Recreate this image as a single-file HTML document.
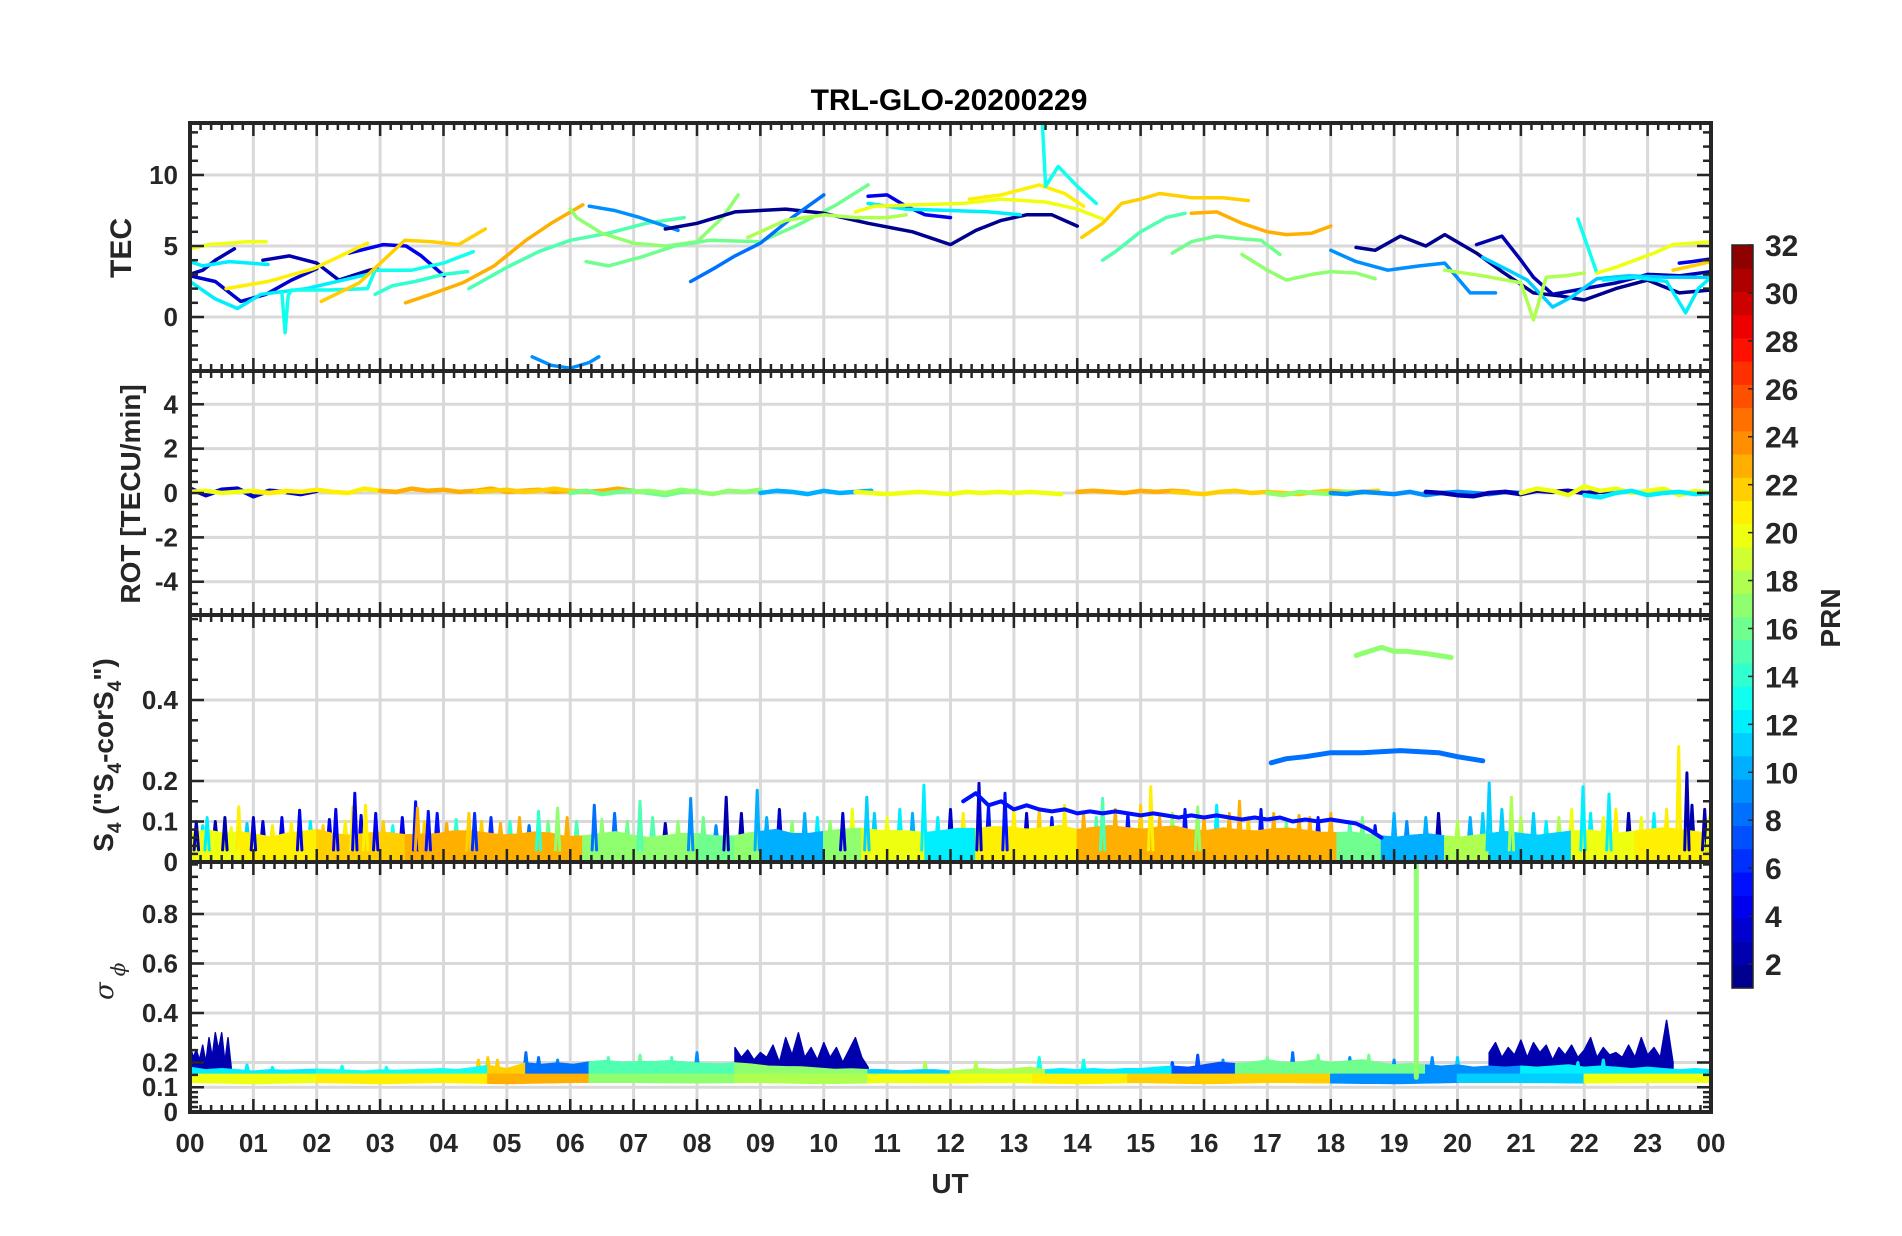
<!DOCTYPE html>
<html><head><meta charset="utf-8"><title>TRL-GLO-20200229</title>
<style>
html,body{margin:0;padding:0;background:#fff;}
svg{display:block;font-family:"Liberation Sans",Arial,sans-serif;}
.tk{font-weight:bold;font-size:26px;fill:#262626;}
</style></head>
<body>
<svg id="fig" width="1902" height="1236" viewBox="0 0 1902 1236" xmlns="http://www.w3.org/2000/svg">
<rect width="1902" height="1236" fill="#fff"/>
<text x="949" y="110" text-anchor="middle" font-weight="bold" font-size="30" fill="#000">TRL-GLO-20200229</text>
<text transform="translate(131,248) rotate(-90)" text-anchor="middle" font-weight="bold" font-size="30" fill="#262626">TEC</text>
<text transform="translate(140,494) rotate(-90)" text-anchor="middle" font-weight="bold" font-size="28" fill="#262626">ROT [TECU/min]</text>
<text transform="translate(113,755) rotate(-90)" text-anchor="middle" font-weight="bold" font-size="28" fill="#262626">S<tspan font-size="19" dy="8">4</tspan><tspan dy="-8"> ("S</tspan><tspan font-size="19" dy="8">4</tspan><tspan dy="-8">-corS</tspan><tspan font-size="19" dy="8">4</tspan><tspan dy="-8">")</tspan></text>
<text transform="translate(113,1000) rotate(-90)" text-anchor="start" font-size="26" fill="#262626" font-family="'DejaVu Serif',serif" font-style="italic">σ<tspan font-size="20" dx="6" dy="12">ϕ</tspan></text>
<text x="950" y="1193" text-anchor="middle" font-weight="bold" font-size="28" fill="#262626">UT</text>
<text transform="translate(1840,618) rotate(-90)" text-anchor="middle" font-weight="bold" font-size="28" fill="#262626">PRN</text>
<g id="layer"></g>
</svg>
<script>
// ---------- data ----------
const hourTickLabels = ["00","01","02","03","04","05","06","07","08","09","10","11","12","13","14","15","16","17","18","19","20","21","22","23","00"];
const tecTicks = [0,5,10];
const rotTicks = [-4,-2,0,2,4];
const s4Ticks = [0,0.1,0.2,0.4];
const sigTicks = [0,0.1,0.2,0.4,0.6,0.8];
const prnTicks = [2,4,6,8,10,12,14,16,18,20,22,24,26,28,30,32];

// TEC arcs
const tecArcPrn = [20,2,3,2,4,12,12,21,13,22,14,23,15,17,16,9,9,1,8,4,12,20,18,21,13,22,15,23,16,17,9,1,2,11,13,18,20,4,22,12];
const tecArcHours = [
 [0,0.3,0.6,0.9,1.2],
 [0,0.2,0.4,0.7],
 [0,0.4,0.8,1.2,1.6,2.0],
 [1.15,1.57,2.0,2.35,2.83,2.95],
 [2.51,3.05,3.41,3.65,4.01],
 [0,0.2,0.62,1.23],
 [0,0.39,0.75,1.12,1.84,2.8],
 [0.57,1.23,1.95,2.8],
 [1.45,1.5,1.55,1.6,2.2,2.8,2.92,3.5,4.0,4.47],
 [2.07,2.67,3.39,3.82,4.24,4.66],
 [2.92,3.19,3.55,4.0,4.38],
 [3.4,3.8,4.3,4.8,5.3,5.7,6.2],
 [4.4,5.0,5.5,6.0,6.6,7.2,7.8],
 [6.0,6.1,6.5,7.0,7.5,8.0,8.4,8.65],
 [6.25,6.6,7.1,7.65,8.2,9.0,9.6,10.2,10.7],
 [5.4,5.7,6.0,6.3,6.45],
 [6.3,6.7,7.1,7.5,7.7],
 [7.5,8.0,8.6,9.4,10.0,10.7,11.4,12.0,12.4,12.8,13.2,13.6,14.0],
 [7.9,8.3,8.6,9.0,9.5,10.0],
 [10.7,11.0,11.3,11.6,12.0],
 [10.7,11.3,12.0,12.6,13.1],
 [10.5,10.8,11.5,12.2,12.8,13.5,14.0,14.4],
 [8.8,9.4,10.0,10.5,11.0,11.3],
 [12.3,12.8,13.4,13.8,14.1],
 [13.45,13.5,13.7,14.0,14.3],
 [14.07,14.4,14.7,15.0,15.3,15.8,16.3,16.7],
 [14.4,14.6,15.0,15.4,15.7],
 [15.8,16.2,16.6,17.0,17.3,17.7,18.0],
 [15.5,15.8,16.2,16.6,16.9,17.2],
 [16.6,17.0,17.3,17.7,18.0,18.4,18.7],
 [18.0,18.4,18.9,19.4,19.8,20.2,20.6],
 [18.4,18.7,19.1,19.5,19.8,20.3,20.7,21.2,21.6,22.0,22.5,23.0,23.5,24],
 [20.3,20.7,21.0,21.2,21.5,22.0,22.5,23.0,23.5,24],
 [20.4,20.8,21.1,21.5,21.8,22.2,22.7,23.3,24],
 [21.9,22.2],
 [19.8,20.4,21.0,21.2,21.4,21.7,22.0],
 [22.2,22.5,22.8,23.1,23.4,23.7,24],
 [23.5,23.7,24],
 [23.4,23.7,24],
 [22.3,22.8,23.3,23.6,23.8,24]
];
const tecArcValues = [
 [4.8,5.1,5.2,5.3,5.3],
 [3.0,3.3,4.0,4.8],
 [2.9,2.5,1.1,1.6,2.6,3.4],
 [4.0,4.3,3.8,2.6,3.3,3.4],
 [4.5,5.1,5.0,4.3,2.9],
 [3.9,3.6,3.9,3.7],
 [2.5,1.3,0.6,1.6,2.0,3.0],
 [2.0,2.5,3.4,5.2],
 [1.7,-1.1,1.5,1.9,1.9,2.0,3.3,3.3,3.8,4.6],
 [1.1,2.4,5.4,5.3,5.1,6.2],
 [1.6,2.2,2.5,3.0,3.2],
 [1.0,1.6,2.4,3.6,5.4,6.6,7.9],
 [2.0,3.5,4.6,5.4,5.9,6.6,7.0],
 [7.6,7.0,5.9,5.2,5.0,5.3,7.0,8.6],
 [3.9,3.6,4.2,5.0,5.4,5.3,6.5,7.9,9.3],
 [-2.8,-3.4,-3.6,-3.2,-2.8],
 [7.8,7.5,7.0,6.4,6.1],
 [6.2,6.6,7.4,7.6,7.3,6.6,6.0,5.1,6.1,6.8,7.2,7.2,6.4],
 [2.5,3.5,4.3,5.2,7.0,8.6],
 [8.5,8.6,7.8,7.2,7.0],
 [8.0,7.6,7.5,7.4,7.2],
 [7.4,7.8,7.9,8.0,8.3,8.1,7.6,6.9],
 [5.6,6.8,7.2,7.0,7.0,7.2],
 [8.3,8.6,9.3,8.7,7.8],
 [13.6,9.2,10.6,9.2,8.0],
 [5.6,6.6,8.0,8.3,8.7,8.4,8.4,8.2],
 [4.0,4.6,6.0,7.0,7.3],
 [7.3,7.4,6.6,6.0,5.8,5.9,6.4],
 [4.5,5.3,5.7,5.5,5.4,4.4],
 [4.4,3.3,2.6,3.0,3.2,3.1,2.7],
 [4.7,3.9,3.3,3.6,3.8,1.7,1.7],
 [4.9,4.7,5.7,5.0,5.8,4.5,3.2,1.7,1.5,1.2,2.0,2.6,1.7,1.9],
 [5.1,5.7,4.0,2.8,1.6,2.0,2.4,3.0,2.9,3.2],
 [4.2,3.3,2.6,0.7,1.4,2.7,2.9,2.8,2.8],
 [6.9,3.1],
 [3.3,2.9,2.4,-0.2,2.8,2.9,3.1],
 [3.1,3.5,4.0,4.5,5.1,5.2,5.3],
 [3.8,3.9,4.1],
 [3.3,3.6,3.9],
 [2.6,2.8,2.5,0.3,2.0,2.8]
];

// ROT segments (step 0.25 h)
const rotSegPrn = [3,20,21,23,22,16,17,10,20,23,22,17,9,2,20,12];
const rotSegStart = [0,0,1,3,4.5,6,7,9,10.5,14,15.5,17,18,19.5,21,22];
const rotSegValues = [
 [0.2,-0.1,0.15,0.2,-0.15,0.1,0.05,-0.05,0.1],
 [0.05,0.1,0,0.05,0.1,0,0.05],
 [0.05,0,0.1,0.05,0.15,0.05,0,0.2,0.1],
 [0.1,0.05,0.2,0.1,0.15,0.05,0.1,0.2,0.05,0.1,0.15,0.05,0.1,0.05,0.1,0.2,0.1],
 [0.05,0.1,0.15,0.05,0.1,0.2,0.1,0.05],
 [0,0.1,-0.05,0.05,0.1,0,-0.1,0.05,0.1],
 [0.05,0.1,0,0.15,0.05,-0.05,0.1,0.05,0.15],
 [0,0.1,0.05,-0.05,0.1,0,0.05,0.1],
 [0.05,0,-0.05,0,0.05,0,-0.05,0.05,0,0.05,0,0.05,0,-0.05],
 [0.05,0.1,0.05,0,0.1,0.05,0.1,0.05],
 [0.05,0,-0.05,0.05,0.1,0,0.05,0,-0.05,0.05,0.1,0.05,0.05,0.1],
 [0,-0.1,0.05,0,-0.05,0.05,0],
 [0,-0.05,0.05,0,-0.05,0.05,-0.1,0,0.05,0,-0.05,0.05,0],
 [0.05,0,-0.1,-0.15,0,0.05,-0.05,0.1,0.05,0.1,0,0.05,0.1],
 [0,0.2,0.1,-0.1,0.3,0.1,0.2,0,0.1,0.2,-0.1,0.1,0,0.05],
 [-0.1,-0.2,0,0.1,-0.1,0,0.05,-0.05,0,0.05,0,-0.05,0]
];

// S4 band
const s4Top = [0.07,0.08,0.07,0.075,0.07,0.06,0.07,0.075,0.08,0.07,0.065,0.07,0.075,0.07,0.065,0.07,0.07,0.08,0.075,0.07,0.065,0.07,0.075,0.07,0.06,0.065,0.07,0.075,0.065,0.06,0.065,0.07,0.07,0.065,0.06,0.07,0.075,0.08,0.07,0.07,0.075,0.08,0.085,0.08,0.075,0.08,0.07,0.075,0.08,0.085,0.08,0.09,0.085,0.08,0.085,0.09,0.08,0.085,0.09,0.085,0.08,0.085,0.09,0.08,0.075,0.085,0.08,0.075,0.08,0.085,0.08,0.075,0.07,0.075,0.07,0.065,0.06,0.065,0.07,0.065,0.06,0.065,0.07,0.075,0.07,0.065,0.07,0.075,0.08,0.075,0.07,0.075,0.08,0.085,0.08,0.075,0.07];
const s4SegStart = [0,0.8,2.0,3.4,6.2,8.0,8.6,9.0,10.0,10.6,11.6,12.4,14.0,18.1,18.8,19.8,20.5,21.8,22.8];
const s4SegEnd   = [0.8,2.0,3.4,6.2,8.0,8.6,9.0,10.0,10.6,11.6,12.4,14.0,18.1,18.8,19.8,20.5,21.8,22.8,24];
const s4SegPrn   = [20,21,22,23,17,16,17,10,17,20,12,21,23,16,10,18,11,20,21];
const s4SpikeHours = [0.1,0.27,0.55,0.77,1.0,1.73,2.3,2.57,2.6,2.77,2.93,3.56,3.59,3.76,4.4,4.49,5.5,5.8,6.38,7.1,7.9,8.46,8.95,10.3,10.68,11.58,12.45,12.86,14.4,15.16,15.9,16.56,17.67,20.5,20.85,21.98,22.39,23.49,23.62,23.9,23.97];
const s4SpikeValues = [0.1,0.11,0.11,0.136,0.11,0.128,0.13,0.136,0.17,0.14,0.12,0.149,0.133,0.125,0.12,0.12,0.125,0.133,0.14,0.15,0.157,0.16,0.177,0.12,0.16,0.19,0.194,0.17,0.157,0.186,0.136,0.15,0.11,0.195,0.16,0.186,0.168,0.285,0.22,0.13,0.11];
const s4SpikePrn = [2,12,2,21,3,4,4,21,4,21,4,5,23,5,22,6,14,17,8,15,9,2,10,3,11,12,3,5,15,21,17,23,23,11,18,12,12,21,2,2,20];
// smaller noise spikes within the dense band
const s4NoiseHours = [0.2,0.4,0.65,0.9,1.15,1.3,1.45,1.6,1.9,2.1,2.2,2.45,2.7,3.05,3.2,3.35,3.7,3.9,4.05,4.2,4.6,4.75,4.9,5.05,5.2,5.35,5.65,5.95,6.1,6.5,6.7,6.9,7.3,7.5,7.7,8.1,8.3,8.7,9.1,9.3,9.5,9.7,9.9,10.1,10.45,10.8,11.0,11.2,11.4,11.8,12.0,12.2,12.6,13.0,13.2,13.4,13.6,13.8,14.1,14.3,14.6,14.8,15.0,15.3,15.5,15.7,16.0,16.2,16.4,16.7,16.9,17.1,17.3,17.5,17.8,18.0,18.3,18.5,18.7,19.0,19.2,19.5,19.7,20.0,20.2,20.4,20.7,21.0,21.2,21.4,21.6,21.8,22.1,22.3,22.5,22.7,22.9,23.1,23.3,23.7];
const s4NoiseValues = [0.09,0.1,0.085,0.095,0.1,0.09,0.11,0.095,0.1,0.09,0.105,0.1,0.115,0.1,0.09,0.11,0.1,0.12,0.095,0.105,0.1,0.11,0.095,0.1,0.11,0.09,0.1,0.11,0.1,0.105,0.12,0.1,0.11,0.095,0.1,0.11,0.09,0.12,0.11,0.13,0.1,0.12,0.11,0.1,0.13,0.12,0.11,0.13,0.12,0.11,0.13,0.12,0.14,0.13,0.12,0.13,0.11,0.14,0.12,0.11,0.13,0.12,0.14,0.11,0.12,0.13,0.11,0.14,0.12,0.11,0.13,0.12,0.1,0.115,0.11,0.12,0.1,0.11,0.09,0.12,0.1,0.11,0.12,0.1,0.11,0.12,0.13,0.11,0.12,0.1,0.11,0.13,0.12,0.11,0.13,0.12,0.11,0.12,0.13,0.14];
const s4NoisePrn = [12,2,20,11,3,21,4,21,12,22,4,21,4,22,13,4,22,5,23,14,22,6,23,14,23,8,16,23,15,17,8,16,15,2,17,16,9,2,10,3,17,10,12,17,20,11,20,12,10,12,3,21,5,21,3,22,5,21,23,15,23,5,22,23,17,5,23,12,23,22,5,23,16,23,5,23,15,16,5,10,9,10,2,18,10,11,11,18,11,12,18,20,12,20,21,2,20,12,21,2];
const s4Prn5Start = 12.2;
const s4Prn5Values = [0.15,0.17,0.14,0.15,0.13,0.14,0.13,0.125,0.13,0.12,0.125,0.12,0.125,0.12,0.115,0.12,0.115,0.11,0.115,0.11,0.115,0.11,0.105,0.11,0.105,0.11,0.1,0.105,0.1,0.105,0.1,0.095,0.08,0.06];
const s4Prn7Hours = [17.06,17.3,17.6,18.0,18.5,19.1,19.7,20.0,20.4];
const s4Prn7Values = [0.245,0.255,0.26,0.27,0.27,0.275,0.27,0.26,0.25];
const s4Prn17Hours = [18.4,18.6,18.8,19.0,19.2,19.5,19.9];
const s4Prn17Values = [0.51,0.52,0.53,0.52,0.52,0.515,0.505];

// sigma-phi band
const sigUpper = [0.18,0.17,0.175,0.17,0.165,0.17,0.168,0.17,0.172,0.17,0.168,0.165,0.17,0.168,0.17,0.172,0.175,0.17,0.18,0.19,0.175,0.2,0.19,0.2,0.19,0.2,0.21,0.2,0.205,0.2,0.21,0.2,0.2,0.19,0.2,0.195,0.19,0.18,0.185,0.18,0.175,0.17,0.175,0.17,0.17,0.165,0.17,0.17,0.165,0.17,0.175,0.17,0.175,0.18,0.17,0.175,0.17,0.175,0.17,0.175,0.175,0.18,0.185,0.18,0.19,0.2,0.195,0.2,0.21,0.2,0.2,0.21,0.2,0.205,0.21,0.2,0.19,0.195,0.19,0.185,0.19,0.18,0.185,0.18,0.185,0.18,0.185,0.19,0.18,0.185,0.18,0.175,0.18,0.175,0.17,0.175,0.17];
const sigLower = [0.12,0.115,0.12,0.115,0.12,0.115,0.12,0.12,0.118,0.12,0.115,0.12,0.118,0.12,0.115,0.12,0.115,0.12,0.118,0.115,0.12,0.12,0.118,0.12,0.12];
const sigUpSegStart = [0,2,4.7,5.3,6.3,8.6,10.7,12,13.5,15.5,16.5,19.5,21];
const sigUpSegEnd   = [2,4.7,5.3,6.3,8.6,10.7,12,13.5,15.5,16.5,19.5,21,24];
const sigUpSegPrn   = [12,13,22,8,15,17,11,18,12,7,16,9,12];
const sigLoSegStart = [0,2,4.7,6.3,8.6,10.7,13.3,14.8,18,20,22];
const sigLoSegEnd   = [2,4.7,6.3,8.6,10.7,13.3,14.8,18,20,22,24];
const sigLoSegPrn   = [20,21,23,17,18,20,21,22,9,11,20];
const sigNoiseHours = [0.9,1.3,2.4,3.1,4.55,4.7,4.85,5.3,5.5,5.8,6.6,7.1,7.6,8.0,11.6,12.4,13.4,14.1,15.5,15.9,16.3,17.0,17.4,17.8,18.3,18.6,19.0,19.6,20.0,21.9,22.3];
const sigNoiseValues = [0.19,0.18,0.185,0.18,0.21,0.22,0.21,0.24,0.22,0.21,0.22,0.23,0.22,0.24,0.2,0.2,0.22,0.21,0.2,0.23,0.21,0.22,0.24,0.23,0.22,0.23,0.21,0.22,0.22,0.2,0.21];
const sigNoisePrn = [12,12,13,13,22,22,22,8,8,9,15,16,15,9,18,18,13,13,7,7,9,16,8,16,9,16,9,9,11,12,12];
const sigPatchPrn = [2,2,2];
const sigPatchStart = [0,8.6,20.5];
const sigPatchStep = [0.05,0.1,0.1];
const sigPatchValues = [
 [0.27,0.22,0.25,0.21,0.27,0.2,0.3,0.22,0.32,0.25,0.32,0.2,0.3,0.18],
 [0.26,0.22,0.25,0.21,0.24,0.22,0.27,0.2,0.3,0.23,0.32,0.22,0.26,0.21,0.28,0.22,0.26,0.2,0.25,0.3,0.22,0.18],
 [0.24,0.28,0.22,0.26,0.23,0.29,0.22,0.28,0.24,0.27,0.21,0.26,0.23,0.27,0.22,0.25,0.3,0.22,0.26,0.23,0.24,0.22,0.27,0.22,0.3,0.23,0.26,0.22,0.37,0.2]
];
const sigSpikeHour = 19.35;
const sigSpikeValue = 1.0;
const sigSpikePrn = 17;

// ---------- geometry ----------
const X0 = 190, X1 = 1711;
const panels = {
  tec: {top:123, bottom:371, min:-3.8, max:13.66},
  rot: {top:371, bottom:615, min:-5.5, max:5.5},
  s4:  {top:615, bottom:862, min:0, max:0.61},
  sig: {top:862, bottom:1112, min:0, max:1.01}
};
const NS = "http://www.w3.org/2000/svg";
const layer = document.getElementById('layer');
function xs(h){ return X0 + h*(X1-X0)/24; }
function ys(p,v){ return p.bottom - (v-p.min)/(p.max-p.min)*(p.bottom-p.top); }
function jet(prn){
  const t=(prn-0.5)/32;
  const c=v=>Math.round(255*Math.max(0,Math.min(1,v)));
  return `rgb(${c(1.5-Math.abs(4*t-3))},${c(1.5-Math.abs(4*t-2))},${c(1.5-Math.abs(4*t-1))})`;
}
function el(tag, attrs, parent){
  const e=document.createElementNS(NS,tag);
  for(const k in attrs) e.setAttribute(k,attrs[k]);
  (parent||layer).appendChild(e);
  return e;
}

const defs = el('defs',{});
for(const key in panels){
  const p=panels[key];
  const cp=el('clipPath',{id:'clip-'+key},defs);
  el('rect',{x:X0,y:p.top,width:X1-X0,height:p.bottom-p.top},cp);
}

const gridG = el('g',{});


const majors = {tec:tecTicks, rot:rotTicks, s4:s4Ticks, sig:sigTicks};
for(const key in panels){
  const p=panels[key];
  for(let h=1;h<24;h++){
    const g=el('line',{x1:xs(h),x2:xs(h),y1:p.top,y2:p.bottom,stroke:'#d9d9d9','stroke-width':3},gridG);
    
    
  }
  majors[key].forEach(v=>{
    if(v<=p.min) return;
    const g=el('line',{x1:X0,x2:X1,y1:ys(p,v),y2:ys(p,v),stroke:'#d9d9d9','stroke-width':3},gridG);
    
    
  });
}

function poly(pts,color,w,parent,name){
  const e=el('polyline',{points:pts.map(q=>q[0].toFixed(1)+','+q[1].toFixed(1)).join(' '),fill:'none',stroke:color,'stroke-width':w,'stroke-linejoin':'round','stroke-linecap':'round'},parent);
  
  
  return e;
}
function area(pts,color,parent,name){
  const e=el('polygon',{points:pts.map(q=>q[0].toFixed(1)+','+q[1].toFixed(1)).join(' '),fill:color,stroke:color,'stroke-width':1.5,'stroke-linejoin':'round'},parent);
  
  
  return e;
}

// ---- TEC ----
const tecG=el('g',{'clip-path':'url(#clip-tec)'});


tecArcPrn.forEach((prn,i)=>{
  const pts=tecArcHours[i].map((h,j)=>[xs(h),ys(panels.tec,tecArcValues[i][j])]);
  poly(pts,jet(prn),3.5,tecG,'tec-arc-prn'+prn);
});

// ---- ROT ----
const rotG=el('g',{'clip-path':'url(#clip-rot)'});


rotSegPrn.forEach((prn,i)=>{
  const pts=rotSegValues[i].map((v,j)=>[xs(rotSegStart[i]+j*0.25),ys(panels.rot,v)]);
  poly(pts,jet(prn),4.5,rotG,'rot-series-prn'+prn);
});

// ---- S4 ----
const s4G=el('g',{'clip-path':'url(#clip-s4)'});


const p4=panels.s4;
function envAt(arr,h){
  const f=h/24*(arr.length-1); const i=Math.min(arr.length-2,Math.floor(f)); const r=f-i;
  return arr[i]*(1-r)+arr[i+1]*r;
}
function spike(h,v,prn,base,w,panel,parent,name){
  poly([[xs(h-w),ys(panel,base)],[xs(h),ys(panel,v)],[xs(h+w),ys(panel,base)]],jet(prn),3,parent,name);
}
s4NoiseHours.forEach((h,i)=>spike(h,s4NoiseValues[i],s4NoisePrn[i],0.04,0.035,p4,s4G,'s4-noise-prn'+s4NoisePrn[i]));
s4SegPrn.forEach((prn,i)=>{
  const a=s4SegStart[i], b=s4SegEnd[i];
  const pts=[[xs(a),ys(p4,0)]];
  const n=Math.max(1,Math.round((b-a)/0.25));
  for(let k=0;k<=n;k++){ const h=a+(b-a)*k/n; pts.push([xs(h),ys(p4,envAt(s4Top,h))]); }
  pts.push([xs(b),ys(p4,0)]);
  area(pts,jet(prn),s4G,'s4-band-prn'+prn);
});
s4SpikeHours.forEach((h,i)=>spike(h,s4SpikeValues[i],s4SpikePrn[i],0.03,0.035,p4,s4G,'s4-spike-prn'+s4SpikePrn[i]));
poly(s4Prn5Values.map((v,j)=>[xs(s4Prn5Start+j*0.2),ys(p4,v)]),jet(5),4,s4G,'s4-arc-prn5');
poly(s4Prn7Hours.map((h,j)=>[xs(h),ys(p4,s4Prn7Values[j])]),jet(8),5,s4G,'s4-arc-prn7');
poly(s4Prn17Hours.map((h,j)=>[xs(h),ys(p4,s4Prn17Values[j])]),jet(17),5,s4G,'s4-arc-prn17');

// ---- sigma phi ----
const sgG=el('g',{'clip-path':'url(#clip-sig)'});


const ps=panels.sig;
sigPatchPrn.forEach((prn,i)=>{
  const vals=sigPatchValues[i];
  const pts=[[xs(sigPatchStart[i]),ys(ps,0.15)]];
  vals.forEach((v,j)=>pts.push([xs(sigPatchStart[i]+j*sigPatchStep[i]),ys(ps,v)]));
  pts.push([xs(sigPatchStart[i]+(vals.length-1)*sigPatchStep[i]),ys(ps,0.15)]);
  area(pts,jet(prn),sgG,'sigma-patch-prn'+prn);
});
sigNoiseHours.forEach((h,i)=>spike(h,sigNoiseValues[i],sigNoisePrn[i],0.15,0.035,ps,sgG,'sigma-noise-prn'+sigNoisePrn[i]));
sigUpSegPrn.forEach((prn,i)=>{
  const a=sigUpSegStart[i], b=sigUpSegEnd[i];
  const top=[], bot=[];
  const n=Math.max(1,Math.round((b-a)/0.25));
  for(let k=0;k<=n;k++){ const h=a+(b-a)*k/n; top.push([xs(h),ys(ps,envAt(sigUpper,h))]); bot.push([xs(h),ys(ps,0.13)]); }
  area(top.concat(bot.reverse()),jet(prn),sgG,'sigma-band-upper-prn'+prn);
});
sigLoSegPrn.forEach((prn,i)=>{
  const a=sigLoSegStart[i], b=sigLoSegEnd[i];
  const top=[], bot=[];
  const n=Math.max(1,Math.round((b-a)/0.25));
  for(let k=0;k<=n;k++){ const h=a+(b-a)*k/n; top.push([xs(h),ys(ps,0.152)]); bot.push([xs(h),ys(ps,envAt(sigLower,h))]); }
  area(top.concat(bot.reverse()),jet(prn),sgG,'sigma-band-lower-prn'+prn);
});
poly([[xs(sigSpikeHour),ys(ps,0.14)],[xs(sigSpikeHour),ys(ps,sigSpikeValue)]],jet(sigSpikePrn),5,sgG,'sigma-spike-prn'+sigSpikePrn);

// ---- axes frames & ticks ----
const axG=el('g',{});


const minorSpec = {
  tec: {list:[-3,-2,-1,1,2,3,4,6,7,8,9,11,12,13]},
  rot: {list:[-5,-4.5,-3.5,-3,-2.5,-1.5,-1,-0.5,0.5,1,1.5,2.5,3,3.5,4.5,5]},
  s4:  {list:[0.02,0.04,0.06,0.08,0.15,0.25,0.3,0.35,0.45,0.5,0.55,0.6]},
  sig: {list:[0.02,0.04,0.06,0.08,0.15,0.25,0.3,0.35,0.45,0.5,0.55,0.65,0.7,0.75,0.85,0.9,0.95,1.0]}
};
const tc='#262626';
for(const key in panels){
  const p=panels[key];
  for(let m=0;m<=144;m++){
    const x=xs(m/6), len=(m%6===0)?13:7;
    const t1=el('line',{x1:x,x2:x,y1:p.bottom,y2:p.bottom-len,stroke:tc,'stroke-width':2.5},axG);
    
    
    const t2=el('line',{x1:x,x2:x,y1:p.top,y2:p.top+len,stroke:tc,'stroke-width':2.5},axG);
    
    
  }
  const ticks=majors[key].map(v=>[v,14]).concat(minorSpec[key].list.map(v=>[v,8]));
  ticks.forEach(([v,len])=>{
    if(v<p.min||v>p.max) return;
    const y=ys(p,v);
    const a=el('line',{x1:X0,x2:X0+len,y1:y,y2:y,stroke:tc,'stroke-width':2.5},axG);
    
    
    const b=el('line',{x1:X1,x2:X1-len,y1:y,y2:y,stroke:tc,'stroke-width':2.5},axG);
    
    
  });
  majors[key].forEach(v=>{
    const t=el('text',{x:178,y:ys(p,v)+9,'text-anchor':'end',class:'tk'},axG);
    t.textContent=String(v);
    
    
  });
  const fr=el('rect',{x:X0,y:p.top,width:X1-X0,height:p.bottom-p.top,fill:'none',stroke:tc,'stroke-width':4},axG);
  
  
}
hourTickLabels.forEach((lab,i)=>{
  const t=el('text',{x:xs(i),y:1152,'text-anchor':'middle',class:'tk'},axG);
  t.textContent=lab;
  
  
});

// ---- colorbar ----
const cbG=el('g',{});


const CBX=1732, CBW=21, CBT=245, CBB=988;
for(let i=1;i<=32;i++){
  const h=(CBB-CBT)/32;
  const r=el('rect',{x:CBX,y:CBB-i*h,width:CBW,height:h+0.6,fill:jet(i)},cbG);
  
  
}
const cbf=el('rect',{x:CBX,y:CBT,width:CBW,height:CBB-CBT,fill:'none',stroke:tc,'stroke-width':1.5},cbG);


prnTicks.forEach(v=>{
  const y=CBB-(v-1)/31*(CBB-CBT);
  const tk=el('line',{x1:CBX+CBW,x2:CBX+CBW-5,y1:y,y2:y,stroke:tc,'stroke-width':1.5},cbG);
  
  
  const t=el('text',{x:1765,y:y+11,class:'tk'},cbG);
  t.style.fontSize='30px';
  t.textContent=String(v);
  
  
});
</script>
</body></html>
